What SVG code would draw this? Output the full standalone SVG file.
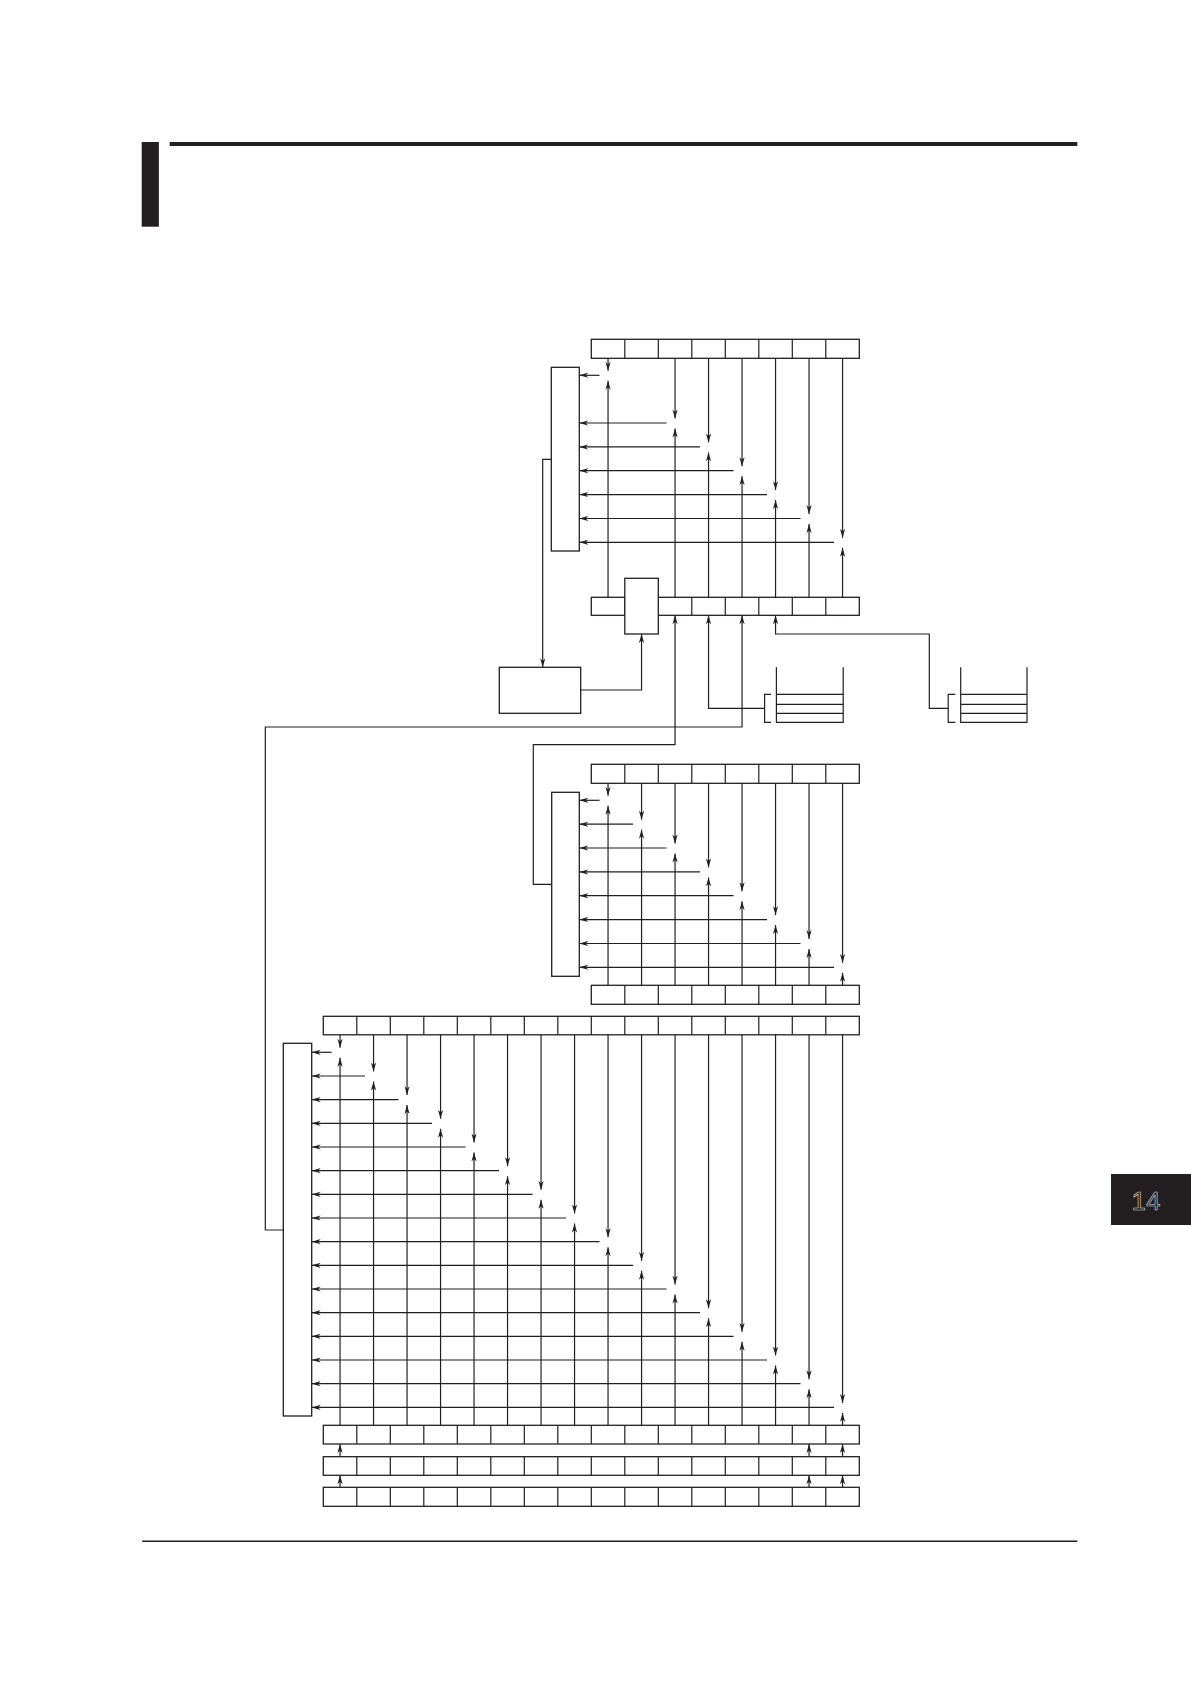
<svg xmlns="http://www.w3.org/2000/svg" width="1191" height="1684" viewBox="0 0 1191 1684">
<style>
.b{fill:#fff;stroke:#231f20;stroke-width:1.3}
.d{fill:none;stroke:#231f20;stroke-width:1.2}
.a{fill:none;stroke:#231f20;stroke-width:1.2;marker-end:url(#ah)}
.k{fill:#231f20;stroke:none}
</style>
<defs>
<marker id="ah" viewBox="0 0 10 6" refX="9" refY="3" markerWidth="10" markerHeight="6" markerUnits="userSpaceOnUse" orient="auto">
<path d="M0,0.4 L9,3 L0,5.6 L2.6,3 Z" fill="#231f20"/>
</marker>
</defs>
<rect width="1191" height="1684" fill="#fff"/>
<g id="header">
<rect class="k" x="141.7" y="142" width="17.2" height="84.7"/>
<rect class="k" x="169.7" y="142" width="907.6" height="4"/>
</g>
<g id="footer">
<line x1="142.2" y1="1541.3" x2="1077.3" y2="1541.3" stroke="#231f20" stroke-width="1.5"/>
</g>
<g id="tab">
<rect class="k" x="1111" y="1174" width="80" height="51"/>
<text x="1146" y="1210" font-family="Liberation Sans, Arial, sans-serif" font-size="26" text-anchor="middle" fill="#231f20" stroke="#d8d8d8" stroke-width="0.6">14</text>
</g>

<g id="rowA">
<rect class="b" x="591.3" y="339.3" width="268" height="19"/>
<path class="d" d="M624.8 339.3V358.3M658.3 339.3V358.3M691.8 339.3V358.3M725.3 339.3V358.3M758.8 339.3V358.3M792.3 339.3V358.3M825.8 339.3V358.3"/>
</g>
<g id="box1"><rect class="b" x="551.3" y="367.3" width="28" height="183.7"/></g>
<g id="rowB">
<rect class="b" x="591.3" y="597.3" width="268" height="18"/>
<path class="d" d="M624.8 597.3V615.3M658.3 597.3V615.3M691.8 597.3V615.3M725.3 597.3V615.3M758.8 597.3V615.3M792.3 597.3V615.3M825.8 597.3V615.3"/>
</g>
<g id="tallbox"><rect class="b" x="624.8" y="578.3" width="33.5" height="55.7"/></g>
<g id="boxC"><rect class="b" x="499.3" y="667.3" width="81.4" height="46"/></g>
<g id="stack1">
<path class="d" d="M776.4 667.3V722.3H843.2V667.3M776.4 694.3H843.2M776.4 704.3H843.2M776.4 713.3H843.2"/>
<path class="d" d="M771 694.3H764.6V722.3H771"/>
</g>
<g id="stack2">
<path class="d" d="M960.7 667.3V722.3H1027V667.3M960.7 694.3H1027M960.7 704.3H1027M960.7 713.3H1027"/>
<path class="d" d="M955.4 694.3H948.2V722.3H955.4"/>
</g>

<g id="rowD">
<rect class="b" x="591.3" y="764.3" width="268" height="19"/>
<path class="d" d="M624.8 764.3V783.3M658.3 764.3V783.3M691.8 764.3V783.3M725.3 764.3V783.3M758.8 764.3V783.3M792.3 764.3V783.3M825.8 764.3V783.3"/>
</g>
<g id="boxE"><rect class="b" x="551.7" y="792.3" width="27.6" height="184"/></g>
<g id="rowF">
<rect class="b" x="591.3" y="985.3" width="268" height="19"/>
<path class="d" d="M624.8 985.3V1004.3M658.3 985.3V1004.3M691.8 985.3V1004.3M725.3 985.3V1004.3M758.8 985.3V1004.3M792.3 985.3V1004.3M825.8 985.3V1004.3"/>
</g>

<g id="rowG">
<rect class="b" x="323.3" y="1016.3" width="536" height="18.5"/>
<path class="d" d="M356.8 1016.3v18.5M390.3 1016.3v18.5M423.8 1016.3v18.5M457.3 1016.3v18.5M490.8 1016.3v18.5M524.3 1016.3v18.5M557.8 1016.3v18.5M591.3 1016.3v18.5M624.8 1016.3v18.5M658.3 1016.3v18.5M691.8 1016.3v18.5M725.3 1016.3v18.5M758.8 1016.3v18.5M792.3 1016.3v18.5M825.8 1016.3v18.5"/>
</g>
<g id="boxH"><rect class="b" x="283.3" y="1043.3" width="28.4" height="372.7"/></g>
<g id="rowR1">
<rect class="b" x="323.3" y="1425.3" width="536" height="18.7"/>
<path class="d" d="M356.8 1425.3v18.7M390.3 1425.3v18.7M423.8 1425.3v18.7M457.3 1425.3v18.7M490.8 1425.3v18.7M524.3 1425.3v18.7M557.8 1425.3v18.7M591.3 1425.3v18.7M624.8 1425.3v18.7M658.3 1425.3v18.7M691.8 1425.3v18.7M725.3 1425.3v18.7M758.8 1425.3v18.7M792.3 1425.3v18.7M825.8 1425.3v18.7"/>
</g>
<g id="rowR2">
<rect class="b" x="323.3" y="1456.7" width="536" height="18.6"/>
<path class="d" d="M356.8 1456.7v18.6M390.3 1456.7v18.6M423.8 1456.7v18.6M457.3 1456.7v18.6M490.8 1456.7v18.6M524.3 1456.7v18.6M557.8 1456.7v18.6M591.3 1456.7v18.6M624.8 1456.7v18.6M658.3 1456.7v18.6M691.8 1456.7v18.6M725.3 1456.7v18.6M758.8 1456.7v18.6M792.3 1456.7v18.6M825.8 1456.7v18.6"/>
</g>
<g id="rowR3">
<rect class="b" x="323.3" y="1487.3" width="536" height="19"/>
<path class="d" d="M356.8 1487.3v19M390.3 1487.3v19M423.8 1487.3v19M457.3 1487.3v19M490.8 1487.3v19M524.3 1487.3v19M557.8 1487.3v19M591.3 1487.3v19M624.8 1487.3v19M658.3 1487.3v19M691.8 1487.3v19M725.3 1487.3v19M758.8 1487.3v19M792.3 1487.3v19M825.8 1487.3v19"/>
</g>

<g id="connectors">
<path class="a" d="M608.05 358.3V370.8"/><path class="a" d="M608.05 597.3V380.8"/><path class="a" d="M599.55 375.3H579.3"/>
<path class="a" d="M675.05 358.3V418.5"/><path class="a" d="M675.05 597.3V428.5"/><path class="a" d="M666.55 423H579.3"/>
<path class="a" d="M708.55 358.3V442.4"/><path class="a" d="M708.55 597.3V452.4"/><path class="a" d="M700.05 446.9H579.3"/>
<path class="a" d="M742.05 358.3V466.2"/><path class="a" d="M742.05 597.3V476.2"/><path class="a" d="M733.55 470.7H579.3"/>
<path class="a" d="M775.55 358.3V490.1"/><path class="a" d="M775.55 597.3V500.1"/><path class="a" d="M767.05 494.6H579.3"/>
<path class="a" d="M809.05 358.3V514"/><path class="a" d="M809.05 597.3V524"/><path class="a" d="M800.55 518.5H579.3"/>
<path class="a" d="M842.55 358.3V537.8"/><path class="a" d="M842.55 597.3V547.8"/><path class="a" d="M834.05 542.3H579.3"/>
<path class="a" d="M551.3 459.3H542.7V667.3"/>
<path class="a" d="M580.7 690H641.55V634"/>
<path class="a" d="M551.7 884.3H533.3V744.7H675.05V615.3"/>
<path class="a" d="M764.6 708.3H708.55V615.3"/>
<path class="a" d="M283.3 1230H265.3V727H742.05V615.3"/>
<path class="a" d="M948.2 708.3H929.3V634H775.55V615.3"/>
<path class="a" d="M608.05 783.3V795.8"/><path class="a" d="M608.05 985.3V805.8"/><path class="a" d="M599.55 800.3H579.3"/>
<path class="a" d="M641.55 783.3V819.7"/><path class="a" d="M641.55 985.3V829.7"/><path class="a" d="M633.05 824.2H579.3"/>
<path class="a" d="M675.05 783.3V843.5"/><path class="a" d="M675.05 985.3V853.5"/><path class="a" d="M666.55 848H579.3"/>
<path class="a" d="M708.55 783.3V867.4"/><path class="a" d="M708.55 985.3V877.4"/><path class="a" d="M700.05 871.9H579.3"/>
<path class="a" d="M742.05 783.3V891.2"/><path class="a" d="M742.05 985.3V901.2"/><path class="a" d="M733.55 895.7H579.3"/>
<path class="a" d="M775.55 783.3V915.1"/><path class="a" d="M775.55 985.3V925.1"/><path class="a" d="M767.05 919.6H579.3"/>
<path class="a" d="M809.05 783.3V939"/><path class="a" d="M809.05 985.3V949"/><path class="a" d="M800.55 943.5H579.3"/>
<path class="a" d="M842.55 783.3V962.8"/><path class="a" d="M842.55 985.3V972.8"/><path class="a" d="M834.05 967.3H579.3"/>
<path class="a" d="M340.05 1034.8V1047.8"/><path class="a" d="M340.05 1425.3V1057.8"/><path class="a" d="M331.55 1052.3H311.7"/>
<path class="a" d="M373.55 1034.8V1071.5"/><path class="a" d="M373.55 1425.3V1081.5"/><path class="a" d="M365.05 1076H311.7"/>
<path class="a" d="M407.05 1034.8V1095.1"/><path class="a" d="M407.05 1425.3V1105.1"/><path class="a" d="M398.55 1099.6H311.7"/>
<path class="a" d="M440.55 1034.8V1118.8"/><path class="a" d="M440.55 1425.3V1128.8"/><path class="a" d="M432.05 1123.3H311.7"/>
<path class="a" d="M474.05 1034.8V1142.5"/><path class="a" d="M474.05 1425.3V1152.5"/><path class="a" d="M465.55 1147H311.7"/>
<path class="a" d="M507.55 1034.8V1166.2"/><path class="a" d="M507.55 1425.3V1176.2"/><path class="a" d="M499.05 1170.7H311.7"/>
<path class="a" d="M541.05 1034.8V1189.8"/><path class="a" d="M541.05 1425.3V1199.8"/><path class="a" d="M532.55 1194.3H311.7"/>
<path class="a" d="M574.55 1034.8V1213.5"/><path class="a" d="M574.55 1425.3V1223.5"/><path class="a" d="M566.05 1218H311.7"/>
<path class="a" d="M608.05 1034.8V1237.2"/><path class="a" d="M608.05 1425.3V1247.2"/><path class="a" d="M599.55 1241.7H311.7"/>
<path class="a" d="M641.55 1034.8V1260.8"/><path class="a" d="M641.55 1425.3V1270.8"/><path class="a" d="M633.05 1265.3H311.7"/>
<path class="a" d="M675.05 1034.8V1284.5"/><path class="a" d="M675.05 1425.3V1294.5"/><path class="a" d="M666.55 1289H311.7"/>
<path class="a" d="M708.55 1034.8V1308.2"/><path class="a" d="M708.55 1425.3V1318.2"/><path class="a" d="M700.05 1312.7H311.7"/>
<path class="a" d="M742.05 1034.8V1331.8"/><path class="a" d="M742.05 1425.3V1341.8"/><path class="a" d="M733.55 1336.3H311.7"/>
<path class="a" d="M775.55 1034.8V1355.5"/><path class="a" d="M775.55 1425.3V1365.5"/><path class="a" d="M767.05 1360H311.7"/>
<path class="a" d="M809.05 1034.8V1379.2"/><path class="a" d="M809.05 1425.3V1389.2"/><path class="a" d="M800.55 1383.7H311.7"/>
<path class="a" d="M842.55 1034.8V1402.9"/><path class="a" d="M842.55 1425.3V1412.9"/><path class="a" d="M834.05 1407.4H311.7"/>
<path class="a" d="M340.05 1456.7V1444"/><path class="a" d="M809.05 1456.7V1444"/><path class="a" d="M842.55 1456.7V1444"/>
<path class="a" d="M340.05 1487.3V1475.3"/><path class="a" d="M809.05 1487.3V1475.3"/><path class="a" d="M842.55 1487.3V1475.3"/>
</g>
</svg>
